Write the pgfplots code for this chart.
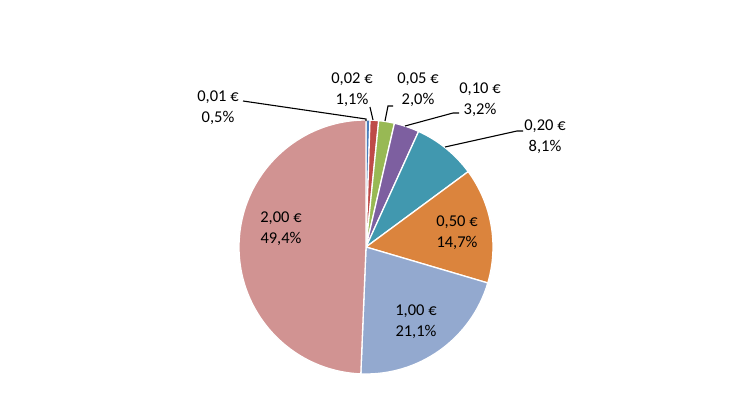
\documentclass[border=0pt]{standalone}
\usepackage{pgfplots}
\usepackage{pgfplotstable}
\pgfplotsset{compat=1.18}
\usepackage{fontspec}
\setmainfont{Carlito}

\definecolor{c1}{HTML}{4A7EBB}
\definecolor{c2}{HTML}{BE4B48}
\definecolor{c3}{HTML}{98B954}
\definecolor{c4}{HTML}{7D5FA0}
\definecolor{c5}{HTML}{4198AF}
\definecolor{c6}{HTML}{DB843D}
\definecolor{c7}{HTML}{93A9CF}
\definecolor{c8}{HTML}{D19392}

% share of each coin, in percent, clockwise from 12 o'clock
\pgfplotstableread{
share colour
0.5  c1
1.1  c2
2.0  c3
3.2  c4
8.1  c5
14.7 c6
21.1 c7
49.4 c8
}\coins

\begin{document}
\begin{tikzpicture}
\pgfplotstablegetrowsof{\coins}
\pgfmathtruncatemacro{\last}{\pgfplotsretval-1}
% total of the shares
\gdef\total{0}
\foreach \i in {0,...,\last}{
  \pgfplotstablegetelem{\i}{share}\of\coins
  \pgfmathsetmacro{\t}{\total+\pgfplotsretval}
  \global\let\total\t
}
% build the slices
\gdef\slices{}
\gdef\cum{0}
\foreach \i in {0,...,\last}{
  \pgfplotstablegetelem{\i}{share}\of\coins \let\v\pgfplotsretval
  \pgfplotstablegetelem{\i}{colour}\of\coins \let\c\pgfplotsretval
  \pgfmathsetmacro{\a}{90-(\cum/\total)*360}
  \pgfmathsetmacro{\b}{90-((\cum+\v)/\total)*360}
  \pgfmathsetmacro{\xa}{366+127*cos(\a)}
  \pgfmathsetmacro{\ya}{163+127*sin(\a)}
  \xdef\slices{\unexpanded\expandafter{\slices}%
    \noexpand\filldraw[fill=\c,draw=white,line width=1.3bp,line join=round]
    (axis cs:366,163) -- (axis cs:\xa,\ya)
    arc[start angle=\a, end angle=\b, radius=127bp] -- cycle;}
  \pgfmathsetmacro{\n}{\cum+\v}
  \global\let\cum\n
}
\begin{axis}[
    x=1bp, y=1bp,
    xmin=0, xmax=730,
    ymin=0, ymax=410,
    hide axis,
    clip=false,
    nodes={font=\fontsize{16.5bp}{21bp}\selectfont, align=center, text=black},
]
\path (axis cs:0,0) rectangle (axis cs:730,410);
\slices

% leader lines
\draw[black, line width=1.1bp] (axis cs:243,309) -- (axis cs:366,291) -- (axis cs:366,289);
\draw[black, line width=1.1bp] (axis cs:370,303) -- (axis cs:373,290);
\draw[black, line width=1.1bp] (axis cs:393,304) -- (axis cs:388,304) -- (axis cs:385,289);
\draw[black, line width=1.1bp] (axis cs:459,297) -- (axis cs:453,297) -- (axis cs:405,284);
\draw[black, line width=1.1bp] (axis cs:523,279) -- (axis cs:517,279) -- (axis cs:445,263);

% data labels
\node at (axis cs:218,302) {0,01 €\\0,5\%};
\node at (axis cs:352,320) {0,02 €\\1,1\%};
\node at (axis cs:418,320) {0,05 €\\2,0\%};
\node at (axis cs:480,310) {0,10 €\\3,2\%};
\node at (axis cs:545,273) {0,20 €\\8,1\%};
\node at (axis cs:457,177) {0,50 €\\14,7\%};
\node at (axis cs:416,88) {1,00 €\\21,1\%};
\node at (axis cs:281,181) {2,00 €\\49,4\%};
\end{axis}
\end{tikzpicture}
\end{document}
